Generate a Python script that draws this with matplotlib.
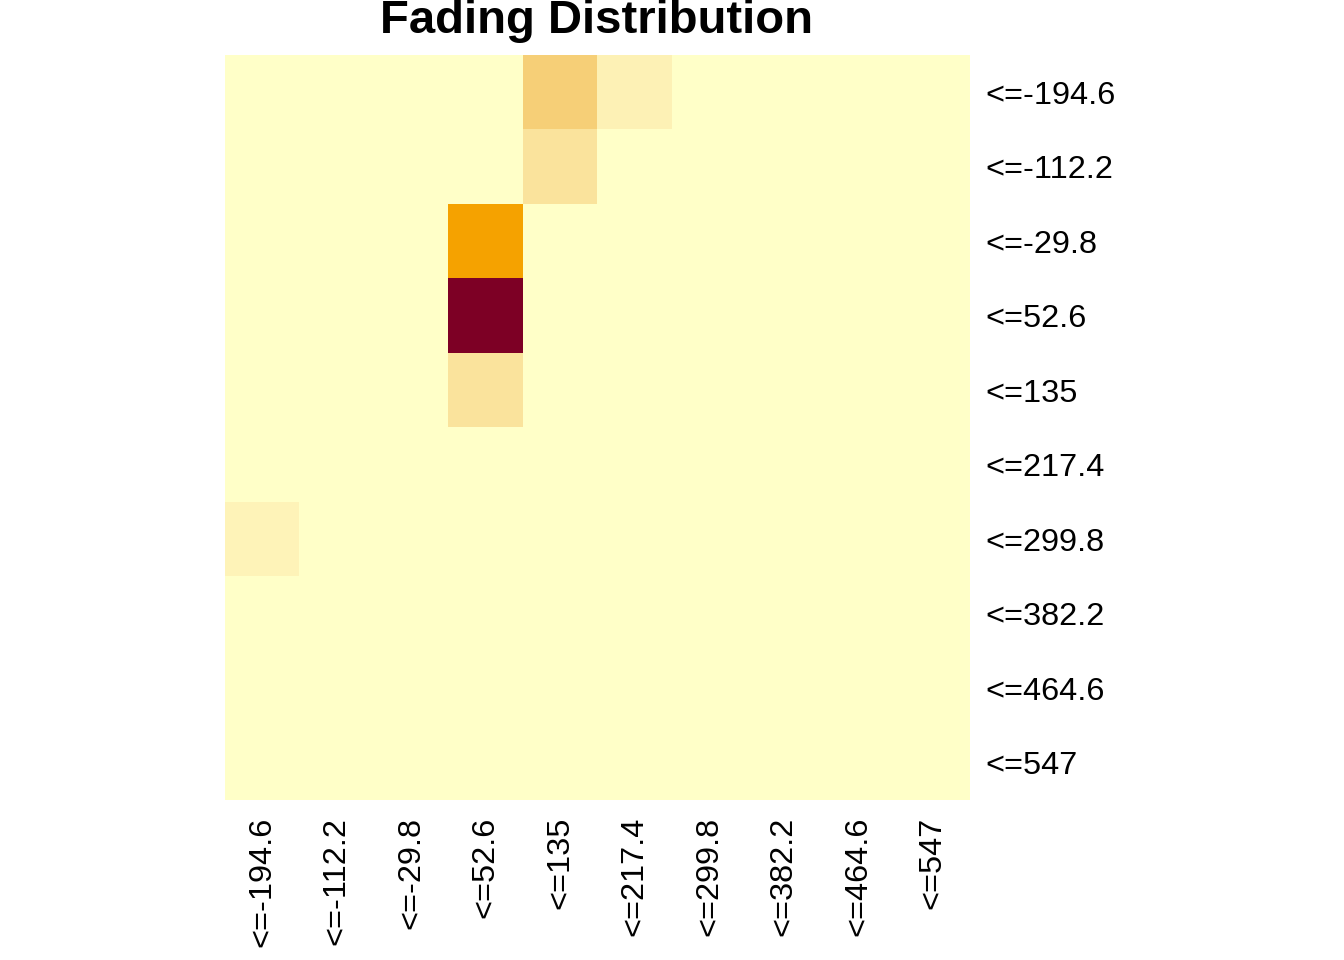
import numpy as np
import matplotlib
matplotlib.use("Agg")
import matplotlib.pyplot as plt
from matplotlib.colors import LinearSegmentedColormap

# bin labels (same for rows and columns)
bins = ["<=-194.6", "<=-112.2", "<=-29.8", "<=52.6", "<=135",
        "<=217.4", "<=299.8", "<=382.2", "<=464.6", "<=547"]

# counts per cell, rows top->bottom, columns left->right
row_0 = [0, 0, 0, 0, 25, 6, 0, 0, 0, 0]
row_1 = [0, 0, 0, 0, 15, 0, 0, 0, 0, 0]
row_2 = [0, 0, 0, 60, 0, 0, 0, 0, 0, 0]
row_3 = [0, 0, 0, 100, 0, 0, 0, 0, 0, 0]
row_4 = [0, 0, 0, 15, 0, 0, 0, 0, 0, 0]
row_5 = [0, 0, 0, 0, 0, 0, 0, 0, 0, 0]
row_6 = [5, 0, 0, 0, 0, 0, 0, 0, 0, 0]
row_7 = [0, 0, 0, 0, 0, 0, 0, 0, 0, 0]
row_8 = [0, 0, 0, 0, 0, 0, 0, 0, 0, 0]
row_9 = [0, 0, 0, 0, 0, 0, 0, 0, 0, 0]

grid = np.array([row_0, row_1, row_2, row_3, row_4,
                 row_5, row_6, row_7, row_8, row_9], dtype=float)

cmap = LinearSegmentedColormap.from_list(
    "ylorrd_like",
    [(0.0, "#FFFFC8"), (0.05, "#FEF3B8"), (0.15, "#FAE39C"),
     (0.25, "#F7D078"), (0.60, "#F5A200"), (1.0, "#7D0025")],
)

font = ["Liberation Sans", "DejaVu Sans"]

fig = plt.figure(figsize=(13.44, 9.6), dpi=100)
ax = fig.add_axes([225 / 1344, 1 - 800 / 960, 745 / 1344, 745 / 960])

ax.imshow(grid, cmap=cmap, vmin=0, vmax=100, aspect="auto",
          interpolation="nearest")

ax.set_xticks(np.arange(len(bins)))
ax.set_xticklabels(bins, rotation=90, fontsize=23.4, family=font)
ax.set_yticks(np.arange(len(bins)))
ax.set_yticklabels(bins, fontsize=23.4, family=font)
ax.yaxis.tick_right()
ax.tick_params(axis="both", length=0)
ax.tick_params(axis="x", pad=12)
ax.tick_params(axis="y", pad=11)
for s in ax.spines.values():
    s.set_visible(False)

fig.text(597 / 1344, 1 - 33 / 960, "Fading Distribution", ha="center",
         va="baseline", fontsize=34, fontweight="bold", family=font)

fig.savefig("out.png", dpi=100)
